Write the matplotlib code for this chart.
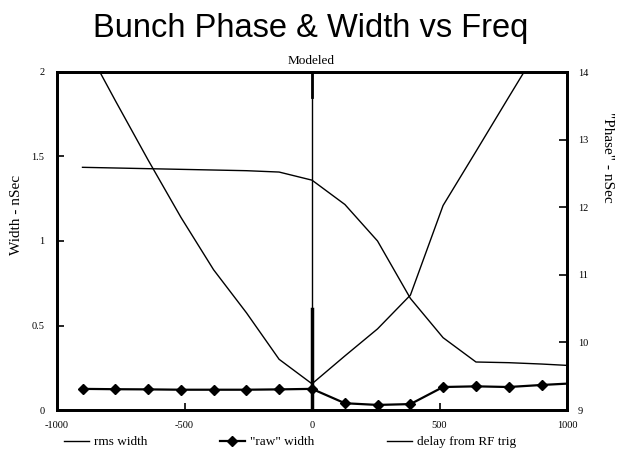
import matplotlib.pyplot as plt
import numpy as np

# frequency offsets (same grid for all three curves)
freq = [-900, -771, -643, -514, -386, -257, -129, 0, 129, 257, 386, 514, 643, 771, 900, 1000]

# rms width (nSec, left axis) - runs off the top at both ends
rms_width = [2.19, 1.83, 1.48, 1.14, 0.83, 0.575, 0.30, 0.155, 0.32, 0.48, 0.68, 1.21, 1.53, 1.85, 2.17, 2.42]

# "raw" width (nSec, left axis)
raw_width = [0.125, 0.123, 0.122, 0.12, 0.12, 0.12, 0.122, 0.125, 0.04, 0.03, 0.035, 0.136, 0.14, 0.136, 0.148, 0.156]

# delay from RF trig ("Phase" nSec, right axis)
delay = [12.59, 12.58, 12.57, 12.56, 12.55, 12.54, 12.52, 12.40, 12.04, 11.5, 10.65, 10.07, 9.71, 9.70, 9.68, 9.66]

x_ticks = [-1000, -500, 0, 500, 1000]
x_labels = ['-1000', '-500', '0', '500', '1000']
left_ticks = [0, 0.5, 1, 1.5, 2]
left_labels = ['0', '0.5', '1', '1.5', '2']
right_ticks = [9, 10, 11, 12, 13, 14]

serif = 'Liberation Serif'

fig = plt.figure(figsize=(6.19, 4.58), dpi=100)
ax = fig.add_axes([57 / 619, 1 - 410 / 458, 510 / 619, 338 / 458])
ax2 = ax.twinx()

ax.plot(freq, rms_width, color='black', lw=1.0, label='rms width')
ax.plot(freq, raw_width, color='black', lw=1.6, marker='D', ms=5,
        markevery=list(range(15)), label='"raw" width')
ax2.plot(freq, delay, color='black', lw=1.0, label='delay from RF trig')

# vertical line at zero (thick near the bottom as in the scan)
ax.axvline(0, color='black', lw=1.0)
ax.plot([0, 0], [0, 0.6], color='black', lw=2.5)
ax.plot([0, 0], [1.85, 2.0], color='black', lw=2.0)

ax.set_xlim(-1000, 1000)
ax.set_ylim(0, 2)
ax2.set_ylim(9, 14)

ax.set_xticks(x_ticks)
ax.set_xticklabels(x_labels, family=serif, fontsize=7.5)
ax.set_yticks(left_ticks)
ax.set_yticklabels(left_labels, family=serif, fontsize=7.5)
ax2.set_yticks(right_ticks)
ax2.set_yticklabels([str(t) for t in right_ticks], family=serif, fontsize=7.5)

ax.tick_params(axis='both', direction='in', length=5, width=1.2, pad=8)
ax2.tick_params(axis='y', direction='in', length=6, width=1.2, pad=8)
ax.tick_params(axis='y', pad=9)

for a in (ax, ax2):
    for s in a.spines.values():
        s.set_linewidth(2.0)

fig.text(311 / 619, 1 - 29 / 458, 'Bunch Phase & Width vs Freq', family='Liberation Sans',
         fontsize=23.5, ha='center', va='center')
fig.text(311 / 619, 1 - 61 / 458, 'Modeled', family=serif, fontsize=9.5, ha='center', va='center')
fig.text(17 / 619, 1 - 215 / 458, 'Width - nSec', family=serif, fontsize=11,
         rotation=90, ha='center', va='center')
fig.text(607 / 619, 1 - 157 / 458, '"Phase" - nSec', family=serif, fontsize=11,
         rotation=-90, ha='center', va='center')

h1, l1 = ax.get_legend_handles_labels()
h2, l2 = ax2.get_legend_handles_labels()
fig.legend(h1 + h2, l1 + l2, loc='center', bbox_to_anchor=(290 / 619, 1 - 442 / 458),
           ncol=3, frameon=False, prop={'family': serif, 'size': 9.5},
           handlelength=1.9, handletextpad=0.4, columnspacing=5.5)

fig.savefig('out.png', dpi=100)
